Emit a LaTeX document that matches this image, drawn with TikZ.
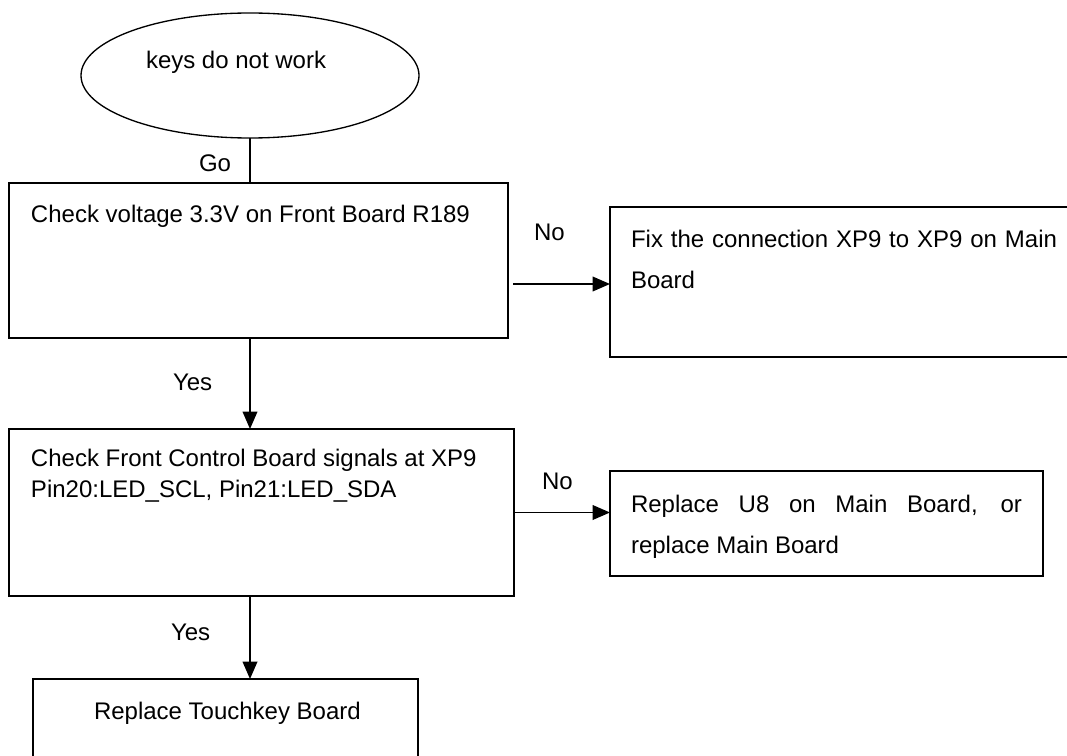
\documentclass[tikz,border=0pt]{standalone}
\usepackage{fontspec}
\setmainfont{Liberation Sans}
\usetikzlibrary{arrows.meta,shapes.geometric}
\begin{document}
\begin{tikzpicture}[x=0.75pt,y=-0.75pt,
  box/.style={draw,line width=1.4pt,inner sep=0pt,outer sep=0pt},
  term/.style={draw,ellipse,line width=1pt,inner sep=0pt,outer sep=0pt,minimum width=253.5pt,minimum height=93.75pt},
  txt/.style={inner sep=0pt,outer sep=0pt,anchor=base west,font=\fontsize{18}{22}\selectfont},
  conn/.style={line width=1.1pt},
  arr/.style={conn,-{Triangle[length=13pt,width=11pt]}}]
\useasboundingbox (0,0) rectangle (1067,756);
\clip (0,0) rectangle (1067,756);
% shapes
\node[term] (e) at (250,75.5) {};
\node[box,minimum width=374.25pt,minimum height=116.25pt] (b1) at (258.5,260.5) {};
\node[box,minimum width=378.75pt,minimum height=125.25pt] (b2) at (261.5,512.5) {};
\node[box,minimum width=288.75pt,minimum height=83.25pt] (b3) at (225.5,734.5) {};
\node[box,minimum width=360pt,minimum height=112.5pt] (b4) at (850,282) {};
\node[box,minimum width=324.75pt,minimum height=78.75pt] (b5) at (826.5,523.5) {};
% texts
\node[txt] (te) at (146,69) {keys do not work};
\node[txt] (t1) at (31,222) {Check voltage 3.3V on Front Board R189};
\node[txt] (t2a) at (31,466) {Check Front Control Board signals at XP9};
\node[txt] (t2b) at (31,497) {Pin20:LED\_SCL, Pin21:LED\_SDA};
\node[txt] (t3) at (94,719) {Replace Touchkey Board};
\node[txt] (t4a) at (631,247) {\hbox to 319.5pt{Fix the connection XP9 to XP9 on Main}};
\node[txt] (t4b) at (631,288) {Board};
\node[txt] (t5a) at (631,512) {\hbox to 293.25pt{Replace U8 on Main Board, or}};
\node[txt] (t5b) at (631,553) {replace Main Board};
% labels
\node[txt] (lgo) at (199,172) {Go};
\node[txt] (ly1) at (173,390) {Yes};
\node[txt] (ly2) at (171,640) {Yes};
\node[txt] (ln1) at (534,240) {No};
\node[txt] (ln2) at (542,489) {No};
% connectors
\coordinate (p1) at (513,284);
\draw[conn] (e.south) -- (e.south |- b1.north);
\draw[arr] (e.south |- b1.south) -- (e.south |- b2.north);
\draw[arr] (e.south |- b2.south) -- (e.south |- b3.north);
\draw[arr] (p1) -- (p1 -| b4.west);
\draw[arr] (b2.east) -- (b2.east -| b5.west);
\end{tikzpicture}
\end{document}
